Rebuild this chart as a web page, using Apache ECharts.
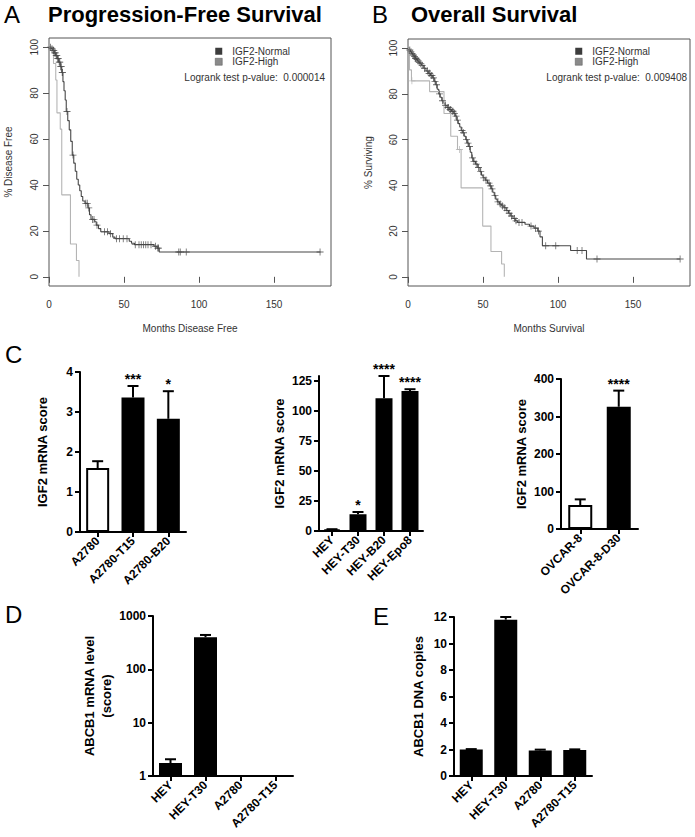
<!DOCTYPE html>
<html><head><meta charset="utf-8">
<script src="https://cdn.jsdelivr.net/npm/echarts@6/dist/echarts.min.js"></script>
<style>html,body{margin:0;padding:0;background:#fff}#c{width:695px;height:837px}</style>
</head><body><div id="c"></div>
<script>
// ---------- DATA ----------
// Kaplan-Meier: [months, % surviving after step]
const pfsNormal = [[0,100],[1.5,99.3],[2.5,98.6],[3.5,97.5],[4.5,96.3],[5.5,95],[6.5,93.5],[7.5,91.5],[8.5,89],[9.3,85],[10,81],[10.8,77],[11.5,72],[12.5,68],[13.5,64],[14.5,59],[15.5,53],[16.5,49.5],[17.5,46],[18.5,42.5],[19.5,40],[20.5,37.5],[21.5,35],[22.5,33],[24,32],[26,30],[27,27],[28,25],[30.5,24],[31.5,22.5],[33,21],[34.5,19.6],[40,18.8],[42.5,17.3],[44,16.6],[53.5,15.5],[55,14.6],[57,14],[70,13.3],[72,12.5],[73.5,10.8],[181,10.8]];
const pfsNormalCensor = [[1,100],[2,99.3],[2.8,98.6],[3.2,98.6],[3.8,97.5],[4.2,97.5],[4.8,96.3],[5.2,96.3],[5.8,95],[6.2,95],[6.8,93.5],[7.2,93.5],[7.8,91.5],[8.2,91.5],[8.8,89],[9,89],[12,72],[16,53],[24.5,32],[25.5,32],[26.5,30],[29,25],[30,25],[32,22.5],[37,19.6],[39,19.6],[41,18.8],[45,16.6],[47,16.6],[49.5,16.6],[52,16.6],[57.5,14],[60,14],[61.5,14],[63,14],[64.5,14],[66,14],[68,14],[71,13.3],[72.5,12.5],[73,12.5],[86.5,10.8],[87.5,10.8],[91.5,10.8],[180.7,10.8]];
const pfsHigh = [[0,100],[3,92.9],[4.5,85.7],[5.3,71.4],[7.5,64.3],[8.5,35.7],[14.3,14.3],[18.3,7.1],[20,0]];
const osNormal = [[0,100],[0.8,99.2],[1.6,98.4],[2.4,97.7],[3.2,97],[4,96.3],[4.8,95.6],[5.6,95],[6.4,94.4],[7.2,93.8],[8,93.2],[9,92.5],[10.5,91.2],[12,90],[13.5,89],[15,88],[16.5,87],[17.5,85.5],[18.5,84],[19.5,82],[20.5,80],[21.5,78.5],[22.5,77],[23.5,76],[24.5,75],[26,74],[27.5,73.2],[29,72.4],[30.5,71.5],[31.5,70.3],[32.5,68.5],[33.5,67],[34.5,65.5],[35.5,64],[36.5,63],[37.5,61.5],[38.5,60],[39.5,58.5],[40.5,57],[41.5,54.5],[42.5,52],[43.5,50.5],[45,49.3],[46.5,47.8],[48,46],[49,44.5],[50,43.3],[51.5,42.3],[53,41],[54.5,39.8],[55.5,38.5],[56.5,37],[57.5,35.5],[58.5,34],[59.5,32.8],[61,31.8],[62.5,31],[64,30.2],[65.5,29],[67,27.8],[68.5,26.6],[70,25.5],[71.5,24.5],[73,23.8],[78,23],[81,22.2],[84,21.3],[86.5,20],[88,17.5],[89.6,13.6],[108.4,11.5],[119,7.8],[181.4,7.8]];
const osNormalCensor = [[1.2,99.2],[2,98.4],[2.8,97.7],[3.5,97],[4.3,96.3],[5,95.6],[5.3,95.6],[6,95],[6.7,94.4],[7.5,93.8],[8.5,93.2],[9.5,92.5],[11,91.2],[13,90],[14,89],[14.5,89],[15.5,88],[16,88],[17,87],[18,85.5],[19,84],[21,80],[23,77],[25,75],[26.5,74],[27,74],[28,73.2],[28.5,73.2],[29.5,72.4],[30,72.4],[31,71.5],[32,70.3],[33,68.5],[36,64],[37,63],[39,60],[40,58.5],[41,57],[43,52],[44,50.5],[45.5,49.3],[47,47.8],[48.5,46],[50.5,43.3],[52,42.3],[54,41],[55,39.8],[56,38.5],[58,35.5],[60,32.8],[61.5,31.8],[63,31],[64.5,30.2],[66,29],[67.5,27.8],[69,26.6],[71,25.5],[72,24.5],[74,23.8],[76,23.8],[82,22.2],[85,21.3],[87,20],[91.8,13.6],[98.5,13.6],[112.8,11.5],[116,11.5],[126,7.8],[181.4,7.8]];
const osHigh = [[0,100],[1,90.5],[2.3,85.7],[14.4,81],[24,71.4],[28.5,61.5],[33,55.7],[35.4,38.9],[49.8,22.2],[55.3,11.1],[62.4,5.6],[64.2,0]];
const osHighCensor = [[2.6,85.7],[34.3,55.7]];
const kmTicksX = [0,50,100,150];
const kmTicksY = [0,20,40,60,80,100];
const kmGroups = ['IGF2-Normal','IGF2-High'];
const logrankP = ['0.000014','0.009408'];

// Panel C
const c1Cats = ['A2780','A2780-T15','A2780-B20'];
const c1Vals = [1.6,3.36,2.83];
const c1Err  = [0.17,0.29,0.69];
const c1Sig  = ['','***','*'];
const c2Cats = ['HEY','HEY-T30','HEY-B20','HEY-Epo8'];
const c2Vals = [1.2,14,110.5,116.5];
const c2Err  = [0.3,1.8,18.5,1.5];
const c2Sig  = ['','*','****','****'];
const c2Ticks = [0,25,50,75,100,125];
const c3Cats = ['OVCAR-8','OVCAR-8-D30'];
const c3Vals = [64,326];
const c3Err  = [15,43];
const c3Sig  = ['','****'];
// Panel D (log scale)
const dCats = ['HEY','HEY-T30','A2780','A2780-T15'];
const dVals = [1.75,400,null,null];
const dErr  = [0.31,41,null,null];
// Panel E
const eCats = ['HEY','HEY-T30','A2780','A2780-T15'];
const eVals = [2.0,11.8,1.93,1.97];
const eErr  = [0.03,0.2,0.06,0.04];

// ---------- CHART ----------
const FF = "'Liberation Sans', Arial, Helvetica, sans-serif";
const DARK = '#474747', LIGHT = '#b4b4b4';
const PLUS = 'path://M4.4,0H5.6V4.4H10V5.6H5.6V10H4.4V5.6H0V4.4H4.4Z';

function kmX(gi, name){
  return {type:'value', gridIndex:gi, min:0, max:188,
    axisLine:{show:false}, splitLine:{show:false},
    axisTick:{show:true, length:6, customValues:kmTicksX, lineStyle:{color:'#555', width:1}},
    axisLabel:{customValues:kmTicksX, fontSize:10, color:'#333', margin:13, fontFamily:FF},
    name:name, nameLocation:'middle', nameGap:37,
    nameTextStyle:{fontSize:10, color:'#333', fontFamily:FF}};
}
function kmY(gi, name, gap){
  return {type:'value', gridIndex:gi, min:-4, max:104,
    axisLine:{show:false}, splitLine:{show:false},
    axisTick:{show:true, length:6, customValues:kmTicksY, lineStyle:{color:'#555', width:1}},
    axisLabel:{customValues:kmTicksY, rotate:90, fontSize:10, color:'#333', margin:10, fontFamily:FF},
    name:name, nameLocation:'middle', nameRotate:90, nameGap:gap,
    nameTextStyle:{fontSize:10, color:'#333', fontFamily:FF}};
}
function kmLine(ai, name, data, color){
  return {type:'line', name:name, xAxisIndex:ai, yAxisIndex:ai, data:data, step:'end',
    showSymbol:false, symbol:'none', silent:true, lineStyle:{color:color, width:1.1},
    itemStyle:{color:color}, z:3};
}
function kmCensor(ai, data, color){
  return {type:'scatter', name:'censor', xAxisIndex:ai, yAxisIndex:ai, data:data,
    symbol:PLUS, symbolSize:7, silent:true, itemStyle:{color:color}, z:4};
}
function barX(gi, cats){
  return {type:'category', gridIndex:gi, data:cats,
    axisLine:{show:true, lineStyle:{color:'#000', width:2}},
    axisTick:{show:true, alignWithLabel:true, length:5, lineStyle:{color:'#000', width:2}},
    axisLabel:{interval:0, rotate:45, margin:7, fontSize:12, fontWeight:'bold', color:'#000', fontFamily:FF}};
}
function barY(gi, opts){
  return Object.assign({type:'value', gridIndex:gi,
    axisLine:{show:true, lineStyle:{color:'#000', width:2}},
    axisTick:{show:true, length:5, lineStyle:{color:'#000', width:2}},
    splitLine:{show:false},
    axisLabel:{fontSize:12, fontWeight:'bold', color:'#000', margin:7, fontFamily:FF, formatter: v => String(v)},
    nameLocation:'middle', nameRotate:90,
    nameTextStyle:{fontSize:13, fontWeight:'bold', color:'#000', fontFamily:FF}}, opts);
}
function bars(ai, vals, width, whiteFirst){
  return {type:'bar', xAxisIndex:ai, yAxisIndex:ai, barWidth:width, silent:true,
    data: vals.map(v => v == null ? '-' : v),
    itemStyle:{color: p => (whiteFirst && p.dataIndex === 0) ? '#fff' : '#000', borderColor:'#000', borderWidth:2},
    z:2};
}
function errBars(ai, vals, errs, sigs){
  return {type:'custom', xAxisIndex:ai, yAxisIndex:ai, silent:true, z:5,
    data: vals.map((v,i) => [i, v == null ? '-' : v, errs[i] == null ? '-' : errs[i]]),
    renderItem: function(params, api){
      const i = params.dataIndex, v = vals[i], e = errs[i];
      if (v == null) return null;
      const b = api.coord([i, v]), t = api.coord([i, v + e]);
      const ch = [
        {type:'line', shape:{x1:b[0], y1:b[1], x2:t[0], y2:t[1]}, style:{stroke:'#000', lineWidth:2}},
        {type:'line', shape:{x1:t[0]-5.5, y1:t[1], x2:t[0]+5.5, y2:t[1]}, style:{stroke:'#000', lineWidth:2}}
      ];
      if (sigs && sigs[i]) ch.push({type:'text', x:t[0], y:t[1]-7,
        style:{text:sigs[i], align:'center', verticalAlign:'middle', font:'bold 14px ' + FF, fill:'#000'}});
      return {type:'group', children:ch};
    }};
}
function letter(t, x, y){ return {text:t, left:x, top:y, padding:0, textStyle:{fontSize:24, fontWeight:'normal', color:'#000', fontFamily:FF}}; }
function heading(t, x, y){ return {text:t, left:x, top:y, padding:0, textStyle:{fontSize:22, fontWeight:'bold', color:'#000', fontFamily:FF}}; }
function kmLegend(x, y){
  return {left:x, top:y, orient:'vertical', padding:0, itemGap:0, itemWidth:7, itemHeight:7, icon:'rect',
    selectedMode:false,
    data:[{name:kmGroups[0], itemStyle:{color:'#3c3c3c'}}, {name:kmGroups[1], itemStyle:{color:'#8a8a8a', borderColor:'#555', borderWidth:0.5}}],
    textStyle:{fontSize:10, lineHeight:10.5, color:'#333', fontFamily:FF, padding:[0,0,0,5]}};
}

const option = {
  animation:false,
  backgroundColor:'#fff',
  textStyle:{fontFamily:FF},
  title:[
    letter('A', 4, 2), heading('Progression-Free Survival', 48, 3),
    letter('B', 372, 2), heading('Overall Survival', 411, 3),
    letter('C', 5, 342), letter('D', 5, 602), letter('E', 373, 604)
  ],
  legend:[kmLegend(215, 46), kmLegend(575, 46)],
  graphic:[
    {type:'text', x:325, y:77, style:{text:'Logrank test p-value:  ' + logrankP[0], align:'right', verticalAlign:'middle', font:'10px ' + FF, fill:'#333'}},
    {type:'text', x:687, y:77, style:{text:'Logrank test p-value:  ' + logrankP[1], align:'right', verticalAlign:'middle', font:'10px ' + FF, fill:'#333'}}
  ],
  grid:[
    {left:49, top:38, width:282, height:248, show:true, borderColor:'#555', borderWidth:1},
    {left:408, top:39, width:282, height:247, show:true, borderColor:'#555', borderWidth:1},
    {left:80, top:372, width:106, height:160},
    {left:319, top:376, width:104, height:155},
    {left:561, top:379, width:77, height:150},
    {left:153, top:616, width:140, height:160},
    {left:454, top:617, width:138, height:159}
  ],
  xAxis:[
    kmX(0, 'Months Disease Free'), kmX(1, 'Months Survival'),
    barX(2, c1Cats), barX(3, c2Cats), barX(4, c3Cats), barX(5, dCats), barX(6, eCats)
  ],
  yAxis:[
    kmY(0, '% Disease Free', 36), kmY(1, '% Surviving', 35),
    barY(2, {min:0, max:4, interval:1, name:'IGF2 mRNA score', nameGap:31}),
    barY(3, {min:0, max:129, axisLabel:{customValues:c2Ticks, fontSize:12, fontWeight:'bold', color:'#000', margin:7, fontFamily:FF},
             axisTick:{show:true, length:5, customValues:c2Ticks, lineStyle:{color:'#000', width:2}},
             name:'IGF2 mRNA score', nameGap:33}),
    barY(4, {min:0, max:400, interval:100, name:'IGF2 mRNA score', nameGap:33}),
    barY(5, {type:'log', logBase:10, min:1, max:1000, name:'ABCB1 mRNA level\n(score)', nameGap:18,
             nameTextStyle:{fontSize:13, fontWeight:'bold', color:'#000', fontFamily:FF, lineHeight:17}, minorTick:{show:false}}),
    barY(6, {min:0, max:12, interval:2, name:'ABCB1 DNA copies', nameGap:29})
  ],
  series:[
    kmLine(0, kmGroups[0], pfsNormal, DARK), kmLine(0, kmGroups[1], pfsHigh, LIGHT),
    kmCensor(0, pfsNormalCensor, DARK),
    kmLine(1, kmGroups[0], osNormal, DARK), kmLine(1, kmGroups[1], osHigh, LIGHT),
    kmCensor(1, osNormalCensor, DARK), kmCensor(1, osHighCensor, LIGHT),
    bars(2, c1Vals, 23, true), errBars(2, c1Vals, c1Err, c1Sig),
    bars(3, c2Vals, 17, false), errBars(3, c2Vals, c2Err, c2Sig),
    bars(4, c3Vals, 24, true), errBars(4, c3Vals, c3Err, c3Sig),
    bars(5, dVals, 23, false), errBars(5, dVals, dErr, null),
    bars(6, eVals, 23, false), errBars(6, eVals, eErr, null)
  ]
};
const chart = echarts.init(document.getElementById('c'), null, {renderer:'svg'});
chart.setOption(option);
</script>
</body></html>
